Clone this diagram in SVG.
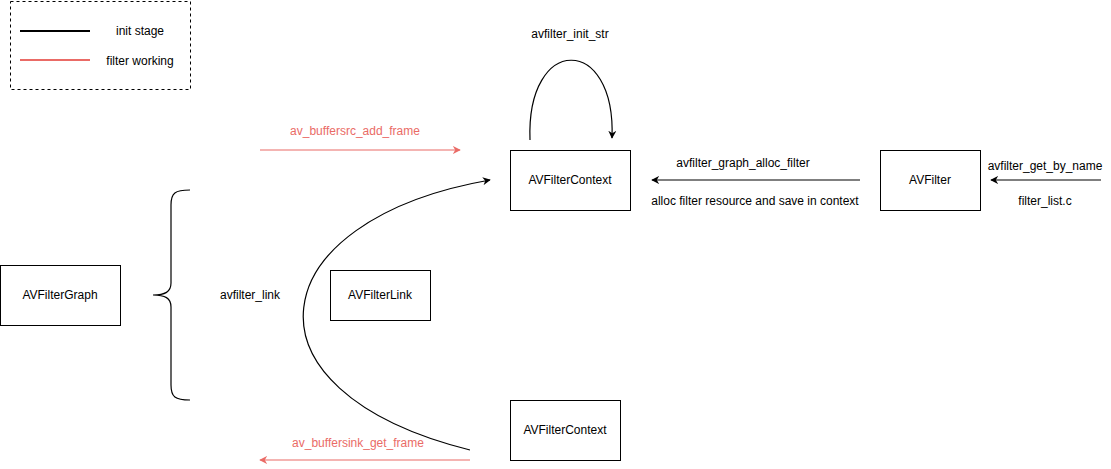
<svg xmlns="http://www.w3.org/2000/svg" width="1111" height="469" viewBox="0 0 1111 469">
<style>
text{font-family:"Liberation Sans",Arial,sans-serif;font-size:12px;fill:#000;text-anchor:middle;dominant-baseline:central}
text.rt{fill:#EA6B66}
.box{fill:#fff;stroke:#000;stroke-width:1}
.blk{fill:none;stroke:#000;stroke-width:1.2}
.red{fill:none;stroke:#EA6B66;stroke-width:1.2}
</style>
<defs>
<marker id="ab" viewBox="0 0 10 10" refX="9" refY="5" markerWidth="8" markerHeight="8" markerUnits="userSpaceOnUse" orient="auto"><path d="M0,0 L10,5 L0,10 L3,5 Z" fill="#000"/></marker>
<marker id="ar" viewBox="0 0 10 10" refX="9" refY="5" markerWidth="8" markerHeight="8" markerUnits="userSpaceOnUse" orient="auto"><path d="M0,0 L10,5 L0,10 L3,5 Z" fill="#EA6B66"/></marker>
</defs>
<rect width="1111" height="469" fill="#fff"/>
<g id="legend">
<rect x="10.5" y="1.5" width="180" height="88" fill="none" stroke="#000" stroke-dasharray="3 3"/>
<line x1="20" y1="31" x2="90" y2="31" stroke="#000" stroke-width="2"/>
<text x="140" y="31">init stage</text>
<line x1="20" y1="60" x2="90" y2="60" stroke="#EA6B66" stroke-width="2"/>
<text x="140" y="61">filter working</text>
</g>
<g id="ctx1"><rect class="box" x="510.5" y="150.5" width="120" height="60"/><text x="570" y="180">AVFilterContext</text></g>
<g id="avfilter"><rect class="box" x="880.5" y="150.5" width="100" height="60"/><text x="930" y="180">AVFilter</text></g>
<g id="graph"><rect class="box" x="0.5" y="265.5" width="120" height="60"/><text x="60" y="295">AVFilterGraph</text></g>
<g id="link"><rect class="box" x="330.5" y="270.5" width="100" height="50"/><text x="380" y="295">AVFilterLink</text></g>
<g id="ctx2"><rect class="box" x="510.5" y="400.5" width="110" height="60"/><text x="565" y="430">AVFilterContext</text></g>
<g id="connectors">
<path class="blk" d="M530,140 C526,34 616,34 612,138" marker-end="url(#ab)"/>
<line class="blk" x1="860" y1="180" x2="652" y2="180" marker-end="url(#ab)"/>
<line class="blk" x1="1101" y1="180" x2="991" y2="180" marker-end="url(#ab)"/>
<line class="red" x1="260" y1="150" x2="460" y2="150" marker-end="url(#ar)"/>
<line class="red" x1="470" y1="460" x2="260" y2="460" marker-end="url(#ar)"/>
<path class="blk" d="M470,450 C230,390 260,220 490,180" marker-end="url(#ab)"/>
<path class="blk" d="M190,190 C175,190 171,193 171,205 L171,283 C171,292 165,295 153,295 C165,295 171,298 171,307 L171,385 C171,397 175,400 190,400"/>
</g>
<g id="labels">
<text x="570" y="34">avfilter_init_str</text>
<text x="743" y="163">avfilter_graph_alloc_filter</text>
<text x="755" y="201">alloc filter resource and save in context</text>
<text x="1045" y="166">avfilter_get_by_name</text>
<text x="1045" y="201">filter_list.c</text>
<text class="rt" x="355" y="131">av_buffersrc_add_frame</text>
<text class="rt" x="358" y="443">av_buffersink_get_frame</text>
<text x="250" y="295">avfilter_link</text>
</g>
</svg>
